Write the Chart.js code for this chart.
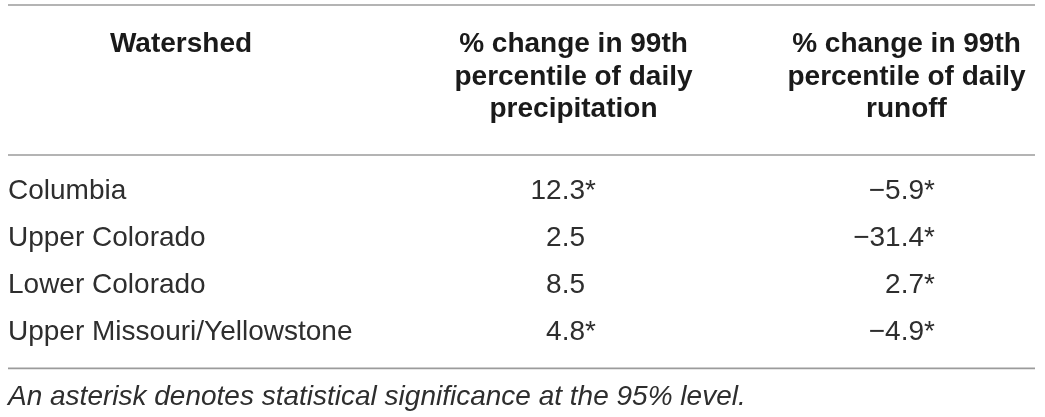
<!DOCTYPE html>
<html>
<head>
<meta charset="utf-8">
<script src="https://cdn.jsdelivr.net/npm/chart.js@4.4.0/dist/chart.umd.min.js"></script>
<style>
    html, body { margin: 0; padding: 0; background: #fff; }
    #contenedor { position: relative; width: 1045px; height: 417px; }
</style>
</head>
<body>
<div id="contenedor">
    <canvas id="tabla"></canvas>
</div>
<script>
// Datos de la tabla
var watersheds = ['Columbia', 'Upper Colorado', 'Lower Colorado', 'Upper Missouri/Yellowstone'];
var precipChange = [12.3, 2.5, 8.5, 4.8];
var precipSignif = [true, false, false, true];
var runoffChange = [-5.9, -31.4, 2.7, -4.9];
var runoffSignif = [true, true, true, true];
var headers = [
    ['Watershed'],
    ['% change in 99th', 'percentile of daily', 'precipitation'],
    ['% change in 99th', 'percentile of daily', 'runoff']
];
var footnote = 'An asterisk denotes statistical significance at the 95% level.';

// Posiciones de columna en unidades del eje x (0 = borde izquierdo de la tabla)
var colHeaderCenter = [173, 565.5, 898.5];
var colLabelX = 0;
var colPrecipX = 577;
var colRunoffX = 916;

var fontFamily = '"Liberation Sans", Arial, Helvetica, sans-serif';

function formatValue(v) {
    var s = Math.abs(v).toFixed(1);
    return v < 0 ? '\u2212' + s : s;
}

// Plugin que dibuja las celdas y las lineas de la tabla
var tablaPlugin = {
    id: 'tabla',
    afterDatasetsDraw: function (chart) {
        var ctx = chart.ctx;
        var area = chart.chartArea;
        var x = chart.scales.x;
        ctx.save();

        // Lineas horizontales
        ctx.strokeStyle = '#9b9b9b';
        ctx.lineWidth = 1.6;
        [area.top - 150, area.top, area.bottom].forEach(function (yy) {
            ctx.beginPath();
            ctx.moveTo(area.left, yy);
            ctx.lineTo(area.right, yy);
            ctx.stroke();
        });

        // Encabezados
        ctx.fillStyle = '#1a1a1a';
        ctx.font = 'bold 28px ' + fontFamily;
        ctx.textAlign = 'center';
        ctx.textBaseline = 'alphabetic';
        var firstBaseline = area.top - 103;
        var lineStep = 32.5;
        headers.forEach(function (lines, i) {
            var cx = x.getPixelForValue(colHeaderCenter[i]);
            lines.forEach(function (line, j) {
                ctx.fillText(line, cx, firstBaseline + j * lineStep);
            });
        });

        // Celdas
        ctx.font = '28px ' + fontFamily;
        ctx.fillStyle = '#2e2e2e';
        ctx.textBaseline = 'middle';
        chart.data.datasets.forEach(function (ds, di) {
            var meta = chart.getDatasetMeta(di);
            meta.data.forEach(function (pt, i) {
                var raw = ds.data[i];
                if (ds.kind === 'label') {
                    ctx.textAlign = 'left';
                    ctx.fillText(raw.text, pt.x, pt.y);
                } else {
                    ctx.textAlign = 'right';
                    ctx.fillText(formatValue(raw.value), pt.x, pt.y);
                    if (raw.signif) {
                        ctx.textAlign = 'left';
                        ctx.fillText('*', pt.x, pt.y);
                    }
                }
            });
        });
        ctx.restore();
    }
};

var ctx = document.getElementById('tabla').getContext('2d');
var tabla = new Chart(ctx, {
    type: 'scatter',
    data: {
        datasets: [
            {
                kind: 'label',
                data: watersheds.map(function (w, i) { return { x: colLabelX, y: i, text: w }; })
            },
            {
                kind: 'value',
                data: precipChange.map(function (v, i) { return { x: colPrecipX, y: i, value: v, signif: precipSignif[i] }; })
            },
            {
                kind: 'value',
                data: runoffChange.map(function (v, i) { return { x: colRunoffX, y: i, value: v, signif: runoffSignif[i] }; })
            }
        ]
    },
    options: {
        responsive: true,
        maintainAspectRatio: false,
        animation: false,
        events: [],
        elements: { point: { radius: 0, hoverRadius: 0 } },
        layout: { padding: { top: 155, left: 8, right: 10, bottom: 3 } },
        scales: {
            x: { type: 'linear', min: 0, max: 1027, display: false },
            y: { type: 'linear', min: -0.77, max: 3.77, reverse: true, display: false }
        },
        plugins: {
            legend: { display: false },
            tooltip: { enabled: false },
            title: {
                display: true,
                position: 'bottom',
                align: 'start',
                text: footnote,
                color: '#2e2e2e',
                font: { family: fontFamily, size: 28, style: 'italic', weight: 'normal', lineHeight: 1.2 },
                padding: { top: 12, bottom: 0 }
            }
        }
    },
    plugins: [tablaPlugin]
});
</script>
</body>
</html>
